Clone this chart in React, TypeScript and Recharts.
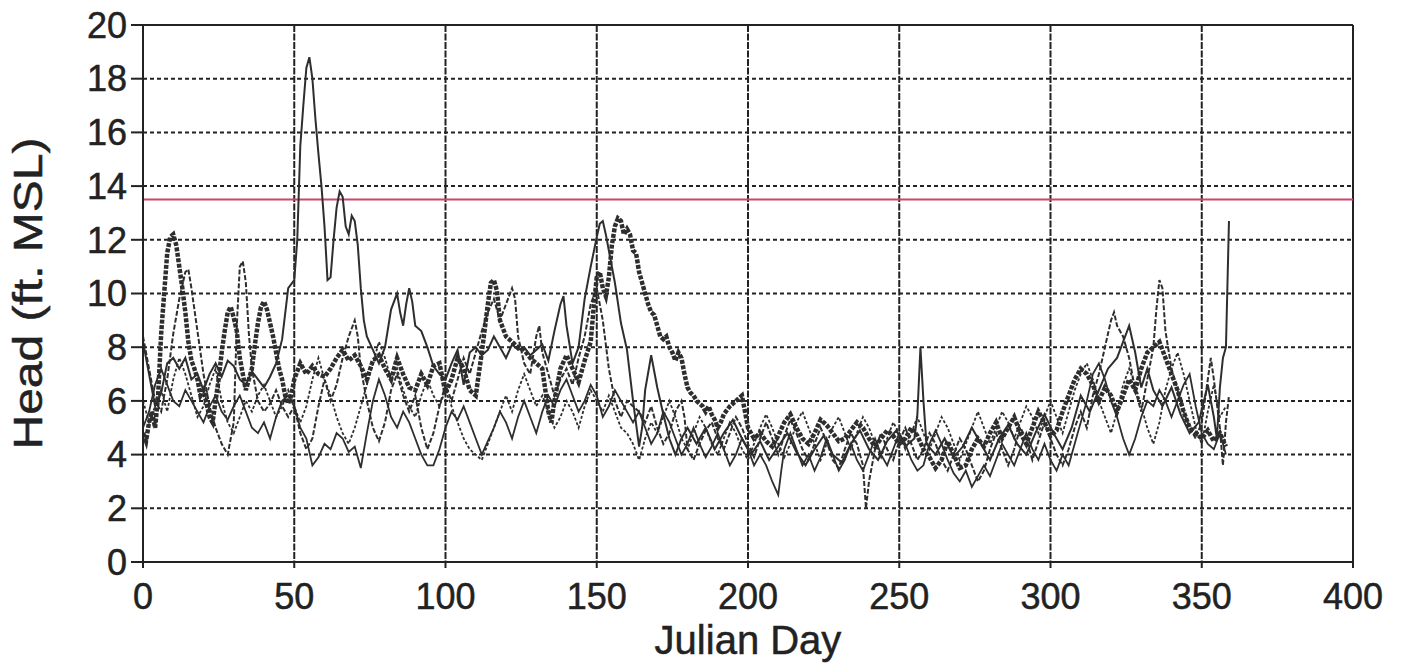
import React from "react";
import { LineChart, Line, XAxis, YAxis, CartesianGrid, ReferenceLine, Label } from "recharts";

const dayTicks = [0, 50, 100, 150, 200, 250, 300, 350, 400];
const headTicks = [0, 2, 4, 6, 8, 10, 12, 14, 16, 18, 20];
const criterionHead = 13.5;

// [Julian day, head ft MSL]
const wellA: number[][] = [
  [0,8.2],[2,7.0],[4,5.8],[6,6.3],[8,7.4],[10,7.6],[12,7.2],[14,7.6],[16,6.8],[18,7.0],[20,6.4],[22,7.0],[24,7.4],[26,6.9],[28,7.5],[30,7.3],[32,6.8],[34,6.6],[36,7.1],[38,6.8],[40,6.5],[42,6.9],[44,7.4],[46,8.3],[48,10.2],[50,10.5],[51,12.0],[52,15.5],[53,17.0],[54,18.4],[55,18.8],[56,18.0],[57,16.5],[58,15.2],[59,14.0],[60,12.5],[61,10.5],[62,10.6],[63,12.0],[64,13.2],[65,13.8],[66,13.6],[67,12.5],[68,12.2],[69,12.9],[70,12.7],[71,11.8],[72,10.2],[73,9.0],[74,8.4],[76,7.9],[78,7.4],[80,8.0],[82,9.4],[84,10.0],[85,9.3],[86,8.8],[87,9.6],[88,10.2],[89,9.7],[90,8.8],[92,8.6],[94,8.0],[96,7.3],[98,7.0],[100,6.8],[102,7.4],[104,7.9],[106,6.6],[108,7.8],[110,8.0],[112,7.7],[114,7.9],[116,8.4],[118,8.0],[120,7.6],[122,8.1],[124,7.9],[126,8.0],[128,7.7],[130,7.9],[132,8.1],[134,7.5],[136,8.6],[138,9.6],[139,9.9],[140,8.8],[142,7.4],[144,8.0],[146,9.8],[148,11.0],[150,12.1],[151,12.6],[152,12.7],[153,12.2],[154,11.6],[156,10.4],[158,8.9],[160,7.9],[162,6.0],[164,4.3],[165,5.0],[166,6.4],[168,7.7],[170,6.5],[172,5.5],[174,4.6],[176,4.0],[178,4.6],[180,5.0],[183,4.4],[186,5.0],[189,4.2],[192,4.8],[195,5.3],[198,4.6],[201,4.0],[204,4.5],[207,3.8],[210,4.3],[213,4.8],[216,4.1],[219,3.6],[222,4.2],[225,4.7],[228,4.0],[231,3.7],[234,4.4],[237,4.9],[240,4.2],[243,3.8],[246,4.5],[249,4.9],[252,4.3],[255,4.6],[256,5.5],[257,8.0],[258,6.0],[259,4.4],[262,4.0],[265,4.6],[268,3.9],[271,4.3],[274,5.0],[277,4.4],[280,3.8],[283,4.6],[286,5.1],[289,4.4],[292,4.0],[295,4.8],[298,5.5],[301,4.8],[304,4.2],[307,5.0],[310,6.2],[313,5.6],[316,6.4],[319,7.2],[322,7.6],[324,8.2],[326,8.8],[328,7.8],[330,6.5],[332,7.2],[334,6.4],[337,5.8],[340,6.5],[343,5.5],[346,4.8],[349,5.2],[352,6.6],[354,5.4],[355,4.6],[356,6.5],[357,7.6],[358,8.0],[359,12.7]
];

const wellB: number[][] = [
  [0,4.8],[1,4.5],[2,5.2],[3,5.6],[4,5.0],[5,6.2],[6,8.5],[7,10.0],[8,11.5],[9,12.1],[10,12.2],[11,11.8],[12,11.0],[13,10.2],[14,9.3],[15,8.2],[16,7.5],[17,7.2],[18,6.8],[19,6.2],[20,6.4],[21,5.9],[22,5.4],[23,5.2],[24,6.0],[25,6.8],[26,7.8],[27,8.6],[28,9.3],[29,9.5],[30,9.1],[31,8.6],[32,7.6],[33,7.0],[34,6.4],[35,6.8],[36,7.2],[37,8.1],[38,8.9],[39,9.5],[40,9.7],[41,9.4],[42,8.9],[43,8.4],[44,7.8],[45,7.2],[46,6.8],[47,6.2],[48,5.9],[49,6.2],[50,6.8],[52,7.4],[54,7.0],[56,7.3],[58,7.0],[60,6.9],[62,7.2],[64,7.6],[66,7.9],[68,7.5],[70,7.7],[72,7.3],[74,6.8],[76,7.5],[78,7.7],[80,7.2],[82,6.8],[84,7.6],[86,7.0],[88,6.5],[90,6.4],[92,7.0],[94,6.6],[96,7.3],[98,7.4],[100,6.3],[102,6.8],[104,7.6],[106,7.2],[108,6.4],[110,6.2],[112,7.8],[114,9.6],[115,10.4],[116,10.5],[117,10.1],[118,9.0],[120,8.4],[122,8.2],[124,8.0],[126,7.9],[128,7.6],[130,7.4],[132,7.2],[134,5.6],[135,5.2],[136,6.0],[138,7.2],[140,7.7],[142,7.2],[144,6.7],[146,7.5],[148,8.2],[149,9.5],[150,10.6],[151,10.8],[152,10.2],[153,9.9],[154,10.6],[155,11.8],[156,12.5],[157,12.8],[158,12.7],[159,12.2],[160,12.4],[161,12.2],[162,11.6],[163,11.5],[164,10.8],[165,10.4],[166,10.0],[167,9.6],[168,9.3],[169,9.2],[170,8.8],[171,8.4],[172,8.3],[173,8.4],[174,8.0],[175,7.8],[176,7.5],[177,7.8],[178,7.6],[179,7.0],[180,6.5],[181,6.3],[182,6.2],[183,6.0],[184,5.9],[185,5.8],[186,5.6],[187,5.8],[188,5.5],[189,5.3],[190,5.0],[191,5.2],[192,5.5],[194,5.8],[196,6.0],[198,6.2],[199,5.6],[200,5.0],[202,4.6],[204,4.8],[206,4.5],[208,4.3],[210,4.7],[212,5.2],[214,5.5],[216,5.0],[218,4.6],[220,4.4],[222,4.8],[224,5.3],[226,5.1],[228,4.8],[230,4.5],[232,4.6],[234,4.9],[236,5.2],[238,5.0],[240,4.6],[242,4.3],[244,4.6],[246,4.9],[248,4.7],[250,4.4],[252,4.6],[254,5.0],[256,4.7],[258,4.2],[260,3.9],[262,3.5],[264,3.8],[266,4.5],[268,4.0],[270,3.5],[272,3.6],[274,4.2],[276,4.6],[278,4.3],[280,4.8],[282,5.2],[284,4.6],[286,5.0],[288,5.4],[290,4.8],[292,4.4],[294,5.0],[296,5.6],[298,5.2],[300,4.7],[302,4.9],[304,5.6],[306,6.2],[308,6.8],[310,7.2],[312,7.0],[314,6.6],[316,6.0],[318,6.5],[320,6.2],[322,5.6],[324,6.2],[326,6.8],[328,6.4],[330,7.2],[332,7.8],[334,8.0],[336,8.2],[338,7.6],[340,7.0],[342,6.4],[344,5.6],[346,5.0],[348,4.8],[350,4.6],[352,4.9],[354,4.5],[356,4.8],[358,4.3]
];

const wellC: number[][] = [
  [0,8.4],[2,7.2],[4,6.0],[6,5.6],[8,6.8],[10,8.5],[12,9.8],[14,10.8],[15,10.9],[16,10.2],[18,8.6],[20,7.0],[22,5.8],[24,5.0],[26,4.4],[28,4.0],[30,5.2],[31,8.8],[32,11.0],[33,11.2],[34,10.4],[35,8.5],[36,7.2],[38,6.0],[40,5.6],[42,5.9],[44,6.4],[46,5.8],[48,5.4],[50,5.8],[52,4.8],[54,4.2],[56,4.6],[58,5.8],[60,6.8],[62,6.0],[64,6.6],[66,7.6],[68,8.4],[70,9.0],[71,8.4],[72,7.2],[74,6.0],[76,5.0],[78,4.5],[80,5.2],[82,6.4],[84,7.0],[86,6.2],[88,5.6],[90,6.2],[92,5.0],[94,4.2],[96,4.8],[98,5.8],[100,6.6],[102,6.0],[104,6.8],[106,7.6],[108,7.0],[110,7.8],[112,8.6],[114,9.3],[116,9.8],[118,9.0],[120,9.6],[122,10.2],[123,9.8],[124,8.4],[126,7.4],[128,7.0],[130,8.4],[131,8.8],[132,7.8],[134,7.0],[136,6.2],[138,6.8],[140,7.2],[142,6.6],[144,7.6],[146,8.4],[148,9.6],[150,10.2],[152,9.0],[154,7.2],[156,6.0],[158,5.4],[160,6.0],[162,5.8],[164,5.6],[166,5.2],[168,5.8],[170,5.0],[172,4.4],[174,4.8],[176,5.6],[178,6.0],[179,5.4],[180,4.2],[182,3.8],[184,4.4],[186,4.9],[188,5.2],[190,4.6],[192,4.2],[194,4.8],[196,5.4],[198,5.0],[200,4.4],[202,3.9],[204,4.6],[206,5.2],[208,4.6],[210,4.0],[212,4.7],[214,5.3],[216,4.8],[218,4.2],[220,3.8],[222,4.4],[224,5.0],[226,4.5],[228,3.8],[230,3.5],[232,4.2],[234,4.8],[236,4.4],[238,3.6],[239,2.0],[240,3.0],[242,4.2],[244,4.8],[246,4.2],[248,3.8],[250,4.5],[252,5.0],[254,4.4],[256,3.8],[258,4.2],[260,4.8],[262,4.4],[264,3.8],[266,3.4],[268,4.0],[270,4.6],[272,4.2],[274,3.6],[276,3.0],[278,3.4],[280,4.2],[282,4.8],[284,4.2],[286,3.6],[288,4.2],[290,5.0],[292,4.6],[294,3.8],[296,4.5],[298,5.2],[300,4.6],[302,4.0],[304,3.6],[306,4.2],[308,5.0],[310,5.6],[312,5.0],[314,6.2],[316,7.0],[318,8.0],[320,9.0],[321,9.3],[322,8.8],[324,8.4],[326,7.6],[328,6.4],[330,5.6],[332,6.8],[334,8.0],[335,9.4],[336,10.5],[337,10.2],[338,8.6],[340,7.2],[342,6.4],[344,5.6],[346,5.0],[348,4.6],[350,5.2],[352,6.8],[353,7.6],[354,6.8],[356,5.0],[357,3.6],[358,5.2],[359,6.2]
];

const wellD: number[][] = [
  [0,5.0],[2,5.6],[4,6.6],[6,7.2],[8,6.6],[10,6.0],[12,5.8],[14,6.4],[16,6.0],[18,5.6],[20,5.2],[22,5.8],[24,6.2],[26,5.6],[28,5.3],[30,5.8],[32,6.2],[34,5.6],[36,5.0],[38,4.8],[40,5.2],[42,4.6],[44,5.4],[46,6.0],[48,6.2],[50,5.8],[52,5.0],[54,4.6],[56,3.6],[58,3.9],[60,4.4],[62,4.2],[64,4.8],[66,4.6],[68,4.1],[70,4.3],[72,3.5],[74,4.8],[76,6.0],[78,6.8],[80,6.2],[82,5.4],[84,5.0],[86,5.6],[88,5.2],[90,4.6],[92,4.0],[94,3.6],[96,3.6],[98,4.2],[100,5.0],[102,5.6],[104,5.3],[106,5.8],[108,5.2],[110,4.6],[112,4.0],[114,4.5],[116,5.0],[118,5.6],[120,5.2],[122,4.6],[124,5.4],[126,6.0],[128,5.4],[130,4.8],[132,5.6],[134,6.2],[136,5.8],[138,6.4],[140,6.8],[142,6.2],[144,5.6],[146,6.0],[148,6.6],[150,6.2],[152,5.4],[154,5.8],[156,6.4],[158,6.0],[160,5.6],[162,5.2],[164,5.6],[166,5.0],[168,4.4],[170,4.8],[172,5.6],[174,5.2],[176,4.6],[178,4.0],[180,4.4],[182,5.0],[184,4.4],[186,3.9],[188,4.3],[190,4.8],[192,4.2],[194,3.6],[196,4.0],[198,4.6],[200,4.2],[202,3.6],[204,4.0],[206,3.6],[208,3.0],[210,2.5],[211,3.4],[212,4.2],[214,4.8],[216,4.2],[218,3.6],[220,4.0],[222,3.4],[224,3.9],[226,4.6],[228,4.0],[230,3.4],[232,3.8],[234,4.4],[236,3.8],[238,3.4],[240,4.0],[242,4.6],[244,4.0],[246,3.6],[248,4.2],[250,4.8],[252,4.4],[254,3.8],[256,3.4],[258,3.6],[260,4.4],[262,4.9],[264,4.4],[266,3.8],[268,3.3],[270,3.0],[272,3.4],[274,2.8],[276,3.2],[278,3.6],[280,3.2],[282,3.8],[284,4.4],[286,4.0],[288,3.6],[290,4.2],[292,4.8],[294,4.2],[296,3.8],[298,4.4],[300,3.8],[302,3.4],[304,4.0],[306,3.6],[308,4.4],[310,5.2],[312,6.0],[314,7.0],[316,7.4],[318,6.8],[320,6.0],[322,5.4],[324,4.6],[326,4.0],[328,4.6],[330,5.4],[332,6.0],[334,5.8],[336,6.4],[338,6.0],[340,5.4],[342,6.0],[344,6.6],[346,7.0],[348,5.8],[350,4.8],[352,4.4],[354,4.2],[356,4.8],[358,4.0]
];

const wellE: number[][] = [
  [0,6.0],[2,5.2],[4,5.8],[6,6.4],[8,5.6],[10,6.8],[12,7.6],[14,7.0],[16,6.2],[18,5.4],[20,5.8],[22,6.6],[24,7.2],[26,6.0],[28,5.2],[30,4.8],[32,5.4],[34,6.0],[36,5.6],[38,6.2],[40,6.6],[42,6.0],[44,5.4],[46,5.8],[48,6.4],[50,5.8],[52,5.2],[54,5.8],[56,6.8],[58,7.6],[60,6.8],[62,6.2],[64,5.4],[66,4.8],[68,4.4],[70,5.0],[72,5.8],[74,6.6],[76,7.4],[78,8.2],[80,7.6],[82,6.8],[84,7.2],[86,6.4],[88,5.8],[90,5.4],[92,6.2],[94,6.8],[96,6.2],[98,5.8],[100,6.4],[102,5.8],[104,5.2],[106,4.6],[108,4.2],[110,4.0],[112,3.8],[114,4.4],[116,5.0],[118,5.6],[120,6.2],[122,5.6],[124,6.4],[126,7.0],[128,6.4],[130,5.8],[132,6.2],[134,5.6],[136,5.0],[138,5.4],[140,6.0],[142,5.6],[144,5.0],[146,5.8],[148,6.4],[150,6.0],[152,5.6],[154,6.2],[156,5.6],[158,5.0],[160,4.8],[162,4.4],[164,3.8],[166,4.6],[168,5.2],[170,4.8],[172,5.4],[174,6.0],[176,5.4],[178,4.6],[180,4.2],[182,4.8],[184,5.4],[186,5.0],[188,4.4],[190,4.0],[192,4.6],[194,5.2],[196,4.8],[198,4.2],[200,3.8],[202,4.4],[204,5.0],[206,5.5],[208,5.0],[210,4.4],[212,3.9],[214,4.4],[216,5.2],[218,5.6],[220,5.0],[222,4.4],[224,3.8],[226,4.4],[228,5.0],[230,5.4],[232,4.8],[234,4.2],[236,4.8],[238,5.4],[240,5.0],[242,4.4],[244,3.9],[246,4.6],[248,5.2],[250,4.8],[252,4.2],[254,4.8],[256,5.4],[258,4.8],[260,4.2],[262,4.8],[264,5.4],[266,5.0],[268,4.4],[270,3.8],[272,4.4],[274,5.0],[276,5.6],[278,5.0],[280,4.4],[282,5.0],[284,5.6],[286,5.2],[288,4.6],[290,5.2],[292,5.8],[294,5.4],[296,4.8],[298,5.4],[300,6.0],[302,5.4],[304,4.8],[306,5.6],[308,6.4],[310,7.0],[312,7.4],[314,6.8],[316,6.0],[318,5.4],[320,4.8],[322,5.6],[324,6.6],[326,7.2],[328,6.6],[330,5.8],[332,5.0],[334,4.4],[336,5.2],[338,6.4],[340,7.2],[342,7.8],[344,7.0],[346,6.0],[348,5.0],[350,4.4],[352,5.6],[354,6.6],[356,5.4],[358,5.8]
];

const toRows = (pairs: number[][]) => pairs.map(([day, head]) => ({ day, head }));

const seriesStyles = [
  { name: "wellA", data: wellA, width: 2, dash: undefined as string | undefined },
  { name: "wellB", data: wellB, width: 4.5, dash: "4 1.5" },
  { name: "wellC", data: wellC, width: 2, dash: "5 2" },
  { name: "wellD", data: wellD, width: 1.8, dash: undefined },
  { name: "wellE", data: wellE, width: 1.8, dash: "3 2" },
];

const FONT = "'Liberation Sans', Arial, Helvetica, sans-serif";
const INK = "#222";
const TICK_FONT = 36;
const TITLE_FONT = 40;

export default function App() {
  return (
    <div style={{ position: "absolute", left: 0, top: 0, width: 1404, height: 665, background: "#fff" }}>
      <LineChart
        width={1404}
        height={665}
        margin={{ top: 25, right: 51, left: 0, bottom: 0 }}
        style={{ fontFamily: FONT }}
      >
        <CartesianGrid vertical={false} stroke={INK} strokeWidth={2} strokeDasharray="4 3" horizontalValues={[2,4,6,8,10,12,14,16,18]} />
        <CartesianGrid horizontal={false} stroke={INK} strokeWidth={2} strokeDasharray="7 1.5" verticalValues={[50,100,150,200,250,300,350]} />
        <XAxis
          type="number"
          dataKey="day"
          domain={[0, 400]}
          ticks={dayTicks}
          allowDataOverflow
          height={103}
          stroke={INK}
          strokeWidth={2}
          tickSize={6}
          tickMargin={15}
          tick={{ fill: INK, fontSize: TICK_FONT, fontFamily: FONT, stroke: INK, strokeWidth: 0.5 }}
          tickLine={{ stroke: INK, strokeWidth: 2 }}
        >
          <Label value="Julian Day" position="insideBottom" offset={11} style={{ fill: INK, fontSize: TITLE_FONT, fontFamily: FONT, stroke: INK, strokeWidth: 0.5 }} />
        </XAxis>
        <YAxis
          type="number"
          domain={[0, 20]}
          ticks={headTicks}
          allowDataOverflow
          width={143}
          stroke={INK}
          strokeWidth={2}
          tickSize={12}
          tickMargin={4}
          tick={{ fill: INK, fontSize: TICK_FONT, fontFamily: FONT, stroke: INK, strokeWidth: 0.5 }}
          tickLine={{ stroke: INK, strokeWidth: 2 }}
        >
          <Label
            content={(props: any) => {
              const vb = props.viewBox || { x: 0, y: 25, width: 143, height: 537 };
              const cx = vb.x + 28;
              const cy = vb.y + vb.height / 2;
              return (
                <text
                  x={0}
                  y={0}
                  transform={`translate(${cx} ${cy}) rotate(-90) scale(1.2 1)`}
                  textAnchor="middle"
                  dominantBaseline="central"
                  fill={INK}
                  stroke={INK}
                  strokeWidth={0.5}
                  fontSize={TITLE_FONT}
                  fontFamily={FONT}
                >
                  Head (ft. MSL)
                </text>
              );
            }}
          />
        </YAxis>
        <ReferenceLine y={20} stroke={INK} strokeWidth={2} />
        <ReferenceLine x={400} stroke={INK} strokeWidth={2} />
        <ReferenceLine y={criterionHead} stroke="#c9476a" strokeWidth={2} />
        {seriesStyles.map((s) => (
          <Line
            key={s.name}
            data={toRows(s.data)}
            dataKey="head"
            type="linear"
            stroke="#2e2e2e"
            strokeWidth={s.width}
            strokeDasharray={s.dash}
            dot={false}
            activeDot={false}
            isAnimationActive={false}
          />
        ))}
      </LineChart>
    </div>
  );
}
